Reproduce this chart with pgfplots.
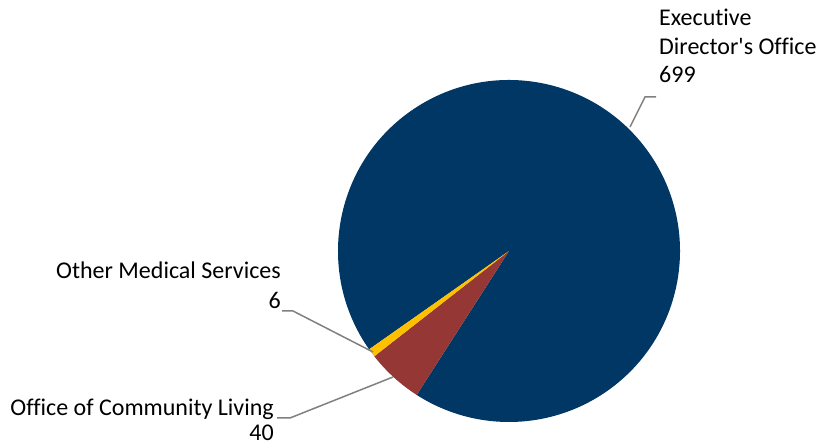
\documentclass[border=0pt]{standalone}
\usepackage{pgfplots}
\pgfplotsset{compat=1.18}
\usepackage{pgfplotstable}
\usepackage{fontspec}
\setmainfont{Carlito}[Ligatures={NoCommon}]
\definecolor{navy}{HTML}{003764}
\definecolor{dred}{HTML}{953735}
\definecolor{gold}{HTML}{FFC000}
\definecolor{leader}{HTML}{808080}
\pgfplotstableread[col sep=comma]{
name,value
Executive Director's Office,699
Office of Community Living,40
Other Medical Services,6
}\piedata
\begin{document}
\begin{tikzpicture}
\pgfplotstablegetelem{0}{value}\of\piedata \let\va\pgfplotsretval
\pgfplotstablegetelem{1}{value}\of\piedata \let\vb\pgfplotsretval
\pgfplotstablegetelem{2}{value}\of\piedata \let\vc\pgfplotsretval
\pgfmathsetmacro{\tot}{\va+\vb+\vc}
\pgfmathsetmacro{\sa}{215.1}
\pgfmathsetmacro{\ea}{\sa-360*(\va/\tot)}
\pgfmathsetmacro{\eb}{\ea-360*(\vb/\tot)}
\pgfmathsetmacro{\ec}{\eb-360*(\vc/\tot)}
\begin{axis}[width=819pt,height=446pt,scale only axis,
  xmin=0,xmax=819,ymin=0,ymax=446,hide axis,clip=false]
\path (axis cs:0,0) rectangle (axis cs:819,446);
\fill[navy] (axis cs:509,195) -- ++(\sa:171pt) arc[start angle=\sa, end angle=\ea, radius=171pt] -- cycle;
\fill[dred] (axis cs:509,195) -- ++(\ea:171pt) arc[start angle=\ea, end angle=\eb, radius=171pt] -- cycle;
\fill[gold] (axis cs:509,195) -- ++(\eb:171pt) arc[start angle=\eb, end angle=\ec, radius=171pt] -- cycle;
\addplot[leader, line width=1.5pt, mark=none] coordinates {(656,349) (645,349) (630,319)};
\addplot[leader, line width=1.5pt, mark=none] coordinates {(282,135) (293,135) (373,94)};
\addplot[leader, line width=1.5pt, mark=none] coordinates {(277,28) (290,28) (393,69)};
\begin{scope}[every node/.style={inner sep=0pt, font=\fontsize{24}{28}\selectfont}]
\node[anchor=base west] at (axis cs:659,420) {Executive};
\node[anchor=base west] at (axis cs:659,391) {Director\textquotesingle s Office};
\node[anchor=base west] at (axis cs:659,363) {699};
\node[anchor=base east] at (axis cs:281,167) {Other Medical Services};
\node[anchor=base east] at (axis cs:281,137) {6};
\node[anchor=base east] at (axis cs:274,30) {Office of Community Living};
\node[anchor=base east] at (axis cs:274,5) {40};
\end{scope}
\end{axis}
\end{tikzpicture}
\end{document}
